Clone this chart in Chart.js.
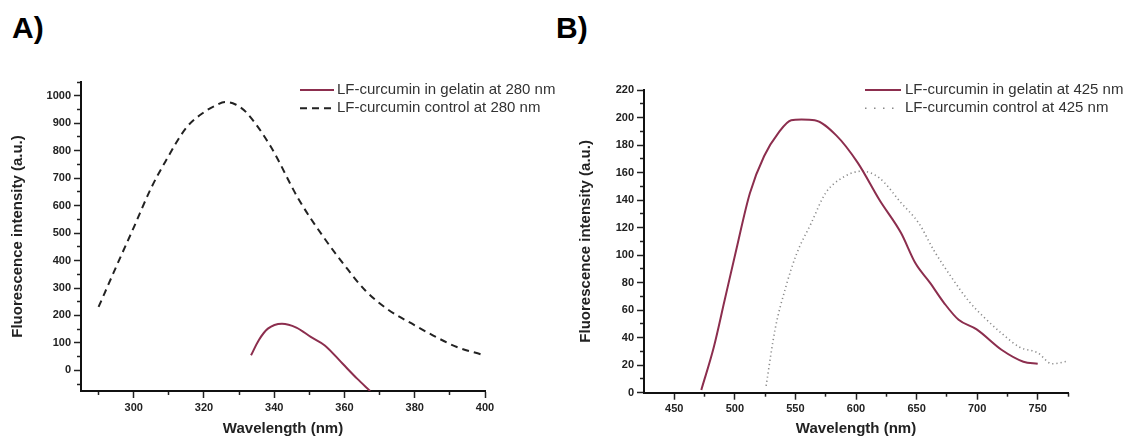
<!DOCTYPE html>
<html>
<head>
<meta charset="utf-8">
<script src="https://cdn.jsdelivr.net/npm/chart.js@4.4.1/dist/chart.umd.min.js"></script>
<style>
  body { margin:0; background:#fff; width:1134px; height:439px; position:relative; overflow:hidden; }
  .panel-label { position:absolute; font: bold 30px "Liberation Sans Narrow", "Liberation Sans", Arial, sans-serif; line-height:30px; color:#000; }
  canvas { position:absolute; top:0; }
</style>
</head>
<body>
<div class="panel-label" style="left:12px; top:13px;">A)</div>
<div class="panel-label" style="left:556px; top:13px;">B)</div>
<canvas id="chartA" width="560" height="439" style="left:0"></canvas>
<canvas id="chartB" width="567" height="439" style="left:567px"></canvas>
<script>
// Panel A: excitation at 280 nm
const wlGelatinA = [333.4, 335.6, 338.2, 342.2, 346.3, 350.4, 354.4, 359.5, 363.6, 367.3];
const fiGelatinA = [55, 110, 152, 170, 156, 122, 91, 24, -30, -75];
const wlControlA = [290, 295, 300, 305, 309, 315, 320, 323, 326, 329, 332, 339, 347, 354, 360, 366, 372, 380, 386, 392, 399];
const fiControlA = [231, 377, 520, 665, 760, 884, 940, 962, 977, 968, 940, 815, 622, 486, 383, 290, 225, 164, 122, 85, 58];
const xTicksA = [300, 320, 340, 360, 380, 400];
const xMinorA = [290, 310, 330, 350, 370, 390];
const yTicksA = [0, 100, 200, 300, 400, 500, 600, 700, 800, 900, 1000];
const yMinorA = [-50, 50, 150, 250, 350, 450, 550, 650, 750, 850, 950, 1050];

// Panel B: excitation at 425 nm
const wlGelatinB = [472.3, 482.6, 491.5, 500.4, 512.4, 524.2, 536.1, 546.5, 555, 565.9, 583.7, 601.5, 619.4, 637.2, 649.1, 661, 672.9, 684.7, 699.6, 720.4, 738.2, 750];
const fiGelatinB = [2, 33, 67, 101, 145, 172, 189, 198, 198.5, 198, 187, 167, 140, 116, 94, 80, 65, 53, 46, 31, 22.5, 21];
const wlControlB = [525.8, 533.2, 542.1, 551, 562.9, 574.8, 586.6, 604.5, 619.4, 637.2, 652, 663.9, 678.7, 693.6, 705.5, 720.4, 735.2, 750, 761.9, 775];
const fiControlB = [5, 46, 77, 101, 123, 145, 155, 161, 156, 138, 123, 104, 84, 66, 55, 43, 33, 29, 21, 23];
const xTicksB = [450, 500, 550, 600, 650, 700, 750];
const xMinorB = [475, 525, 575, 625, 675, 725, 775];
const yTicksB = [0, 20, 40, 60, 80, 100, 120, 140, 160, 180, 200, 220];
const yMinorB = [10, 30, 50, 70, 90, 110, 130, 150, 170, 190, 210];

const maroon = '#8c2e4e';
Chart.defaults.font.family = '"Liberation Sans", Arial, sans-serif';
Chart.defaults.color = '#222';

const pts = (xs, ys) => xs.map((x, i) => ({ x: x, y: ys[i] }));
const setTicks = vals => scale => { scale.ticks = vals.map(v => ({ value: v })); };

// legend drawn inside the plot, top right
const legendLines = {
  id: 'legendLines',
  afterDraw(chart, args, o) {
    const ctx = chart.ctx;
    ctx.save();
    chart.data.datasets.forEach((ds, i) => {
      const y = o.y + i * o.rowH;
      ctx.beginPath();
      ctx.strokeStyle = ds.borderColor;
      ctx.lineWidth = ds.borderWidth;
      ctx.setLineDash(ds.legendDash || []);
      ctx.moveTo(o.x, y);
      ctx.lineTo(o.x + o.len, y);
      ctx.stroke();
      ctx.setLineDash([]);
      ctx.fillStyle = '#333';
      ctx.font = '15px "Liberation Sans", Arial, sans-serif';
      ctx.textBaseline = 'middle';
      ctx.fillText(ds.label, o.x + o.len + o.gap, y);
    });
    ctx.restore();
  }
};

function buildScales(s) {
  const tickFont = { size: 11, weight: 'bold' };
  const minorGrid = { drawOnChartArea: false, tickLength: 4, tickWidth: 1.5, tickColor: '#222' };
  return {
    x: {
      type: 'linear', position: 'bottom', min: s.xMin, max: s.xMax, bounds: 'data', weight: 1,
      afterBuildTicks: setTicks(s.xTicks),
      afterFit: sc => { sc.height = s.xH; },
      ticks: { font: tickFont, color: '#222', padding: 3, autoSkip: false, maxRotation: 0, callback: v => String(v) },
      grid: { drawOnChartArea: false, tickLength: 7, tickWidth: 1.5, tickColor: '#222' },
      border: { color: '#111', width: 2 },
      title: { display: true, text: 'Wavelength (nm)', font: { size: 15, weight: 'bold' }, color: '#222', padding: { top: 0, bottom: 1 } }
    },
    x2: {
      type: 'linear', position: 'bottom', min: s.xMin, max: s.xMax, bounds: 'data', weight: 0,
      afterBuildTicks: setTicks(s.xMinor),
      afterFit: sc => { sc.height = 0; },
      ticks: { display: false, autoSkip: false },
      grid: minorGrid,
      border: { display: false }
    },
    y: {
      type: 'linear', position: 'left', min: s.yMin, max: s.yMax, bounds: 'data', weight: 1,
      afterBuildTicks: setTicks(s.yTicks),
      afterFit: sc => { sc.width = s.yW; },
      ticks: { font: tickFont, color: '#222', padding: 3, autoSkip: false, callback: v => String(v) },
      grid: { drawOnChartArea: false, tickLength: 7, tickWidth: 1.5, tickColor: '#222' },
      border: { color: '#111', width: 2 },
      title: { display: true, text: 'Fluorescence intensity (a.u.)', font: { size: 15, weight: 'bold' }, color: '#222', padding: { top: s.yTitlePad, bottom: 0 } }
    },
    y2: {
      type: 'linear', position: 'left', min: s.yMin, max: s.yMax, bounds: 'data', weight: 0,
      afterBuildTicks: setTicks(s.yMinor),
      afterFit: sc => { sc.width = 0; },
      ticks: { display: false, autoSkip: false },
      grid: minorGrid,
      border: { display: false }
    }
  };
}

function makeChart(id, datasets, s, legend) {
  return new Chart(document.getElementById(id), {
    type: 'line',
    data: { datasets: datasets },
    options: {
      responsive: false,
      animation: false,
      layout: { padding: s.pad },
      elements: { point: { radius: 0 }, line: { cubicInterpolationMode: 'monotone' } },
      plugins: { legend: { display: false }, tooltip: { enabled: false }, legendLines: legend },
      scales: buildScales(s)
    },
    plugins: [legendLines]
  });
}

makeChart('chartA', [
  { label: 'LF-curcumin in gelatin at 280 nm', data: pts(wlGelatinA, fiGelatinA), borderColor: maroon, borderWidth: 2 },
  { label: 'LF-curcumin control at 280 nm', data: pts(wlControlA, fiControlA), borderColor: '#222', borderWidth: 2, borderDash: [7, 5], legendDash: [7, 5] }
], {
  xMin: 285, xMax: 400, xTicks: xTicksA, xMinor: xMinorA, xH: 48,
  yMin: -75, yMax: 1050, yTicks: yTicksA, yMinor: yMinorA, yW: 81, yTitlePad: 9,
  pad: { left: 0, top: 82, right: 75, bottom: 0 }
}, { x: 300, y: 90, rowH: 18.3, len: 34, gap: 3 });

makeChart('chartB', [
  { label: 'LF-curcumin in gelatin at 425 nm', data: pts(wlGelatinB, fiGelatinB), borderColor: maroon, borderWidth: 2 },
  { label: 'LF-curcumin control at 425 nm', data: pts(wlControlB, fiControlB), borderColor: '#8a8a8a', borderWidth: 1.6, borderDash: [1.2, 3], legendDash: [1.5, 7.5] }
], {
  xMin: 425, xMax: 775, xTicks: xTicksB, xMinor: xMinorB, xH: 46.3,
  yMin: 0, yMax: 220, yTicks: yTicksB, yMinor: yMinorB, yW: 77, yTitlePad: 10,
  pad: { left: 0, top: 90, right: 66, bottom: 0 }
}, { x: 298, y: 90, rowH: 18.3, len: 36, gap: 4 });
</script>
</body>
</html>
